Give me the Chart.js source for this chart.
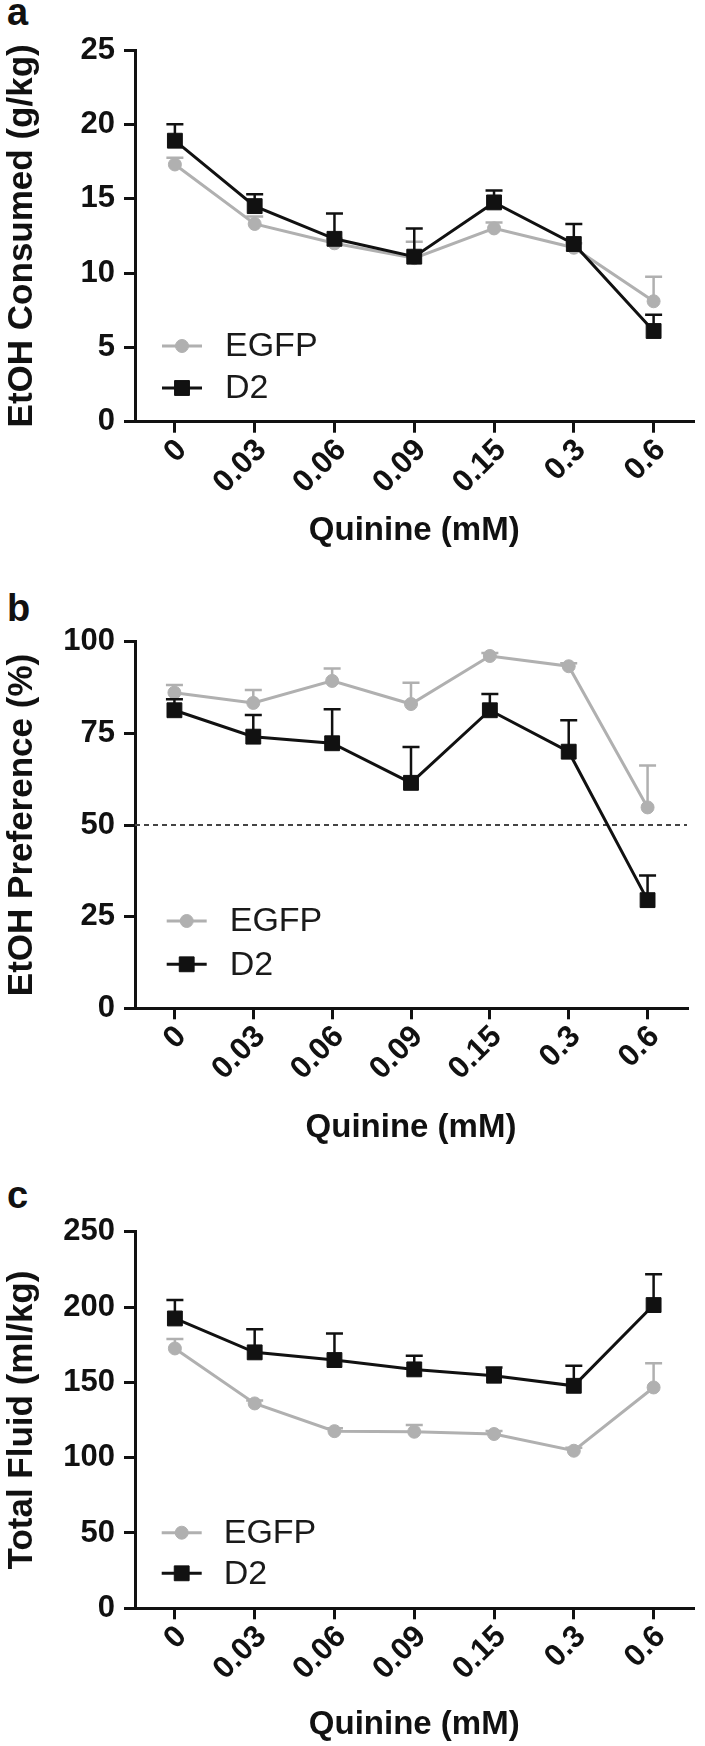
<!DOCTYPE html>
<html><head><meta charset="utf-8">
<script src="https://cdn.jsdelivr.net/npm/chart.js@4.4.0/dist/chart.umd.min.js"></script>
<style>
html,body{margin:0;padding:0;background:#fff;}
body{width:705px;height:1746px;position:relative;overflow:hidden;font-family:"Liberation Sans",Arial,sans-serif;}
canvas{position:absolute;left:0;}
.lbl{position:absolute;left:7px;font-weight:bold;font-size:38px;line-height:38px;color:#111;}
</style></head><body>
<div class="lbl" style="top:-7px">a</div>
<div class="lbl" style="top:589px">b</div>
<div class="lbl" style="top:1176px">c</div>
<canvas id="ca" width="705" height="580" style="top:0px"></canvas>
<canvas id="cb" width="705" height="580" style="top:580px"></canvas>
<canvas id="cc" width="705" height="586" style="top:1160px"></canvas>
<script>
// ---- data ----
const quinineLabels = ['0', '0.03', '0.06', '0.09', '0.15', '0.3', '0.6'];
const seriesNames = ['EGFP', 'D2'];

const consumedEGFP    = [17.3, 13.3, 12.0, 11.0, 13.0, 11.7, 8.1];
const consumedEGFPErr = [0.45, 0.5, 0.3, 1.1, 0.4, 0.3, 1.65];
const consumedD2      = [18.9, 14.5, 12.3, 11.1, 14.75, 11.95, 6.1];
const consumedD2Err   = [1.1, 0.8, 1.7, 1.9, 0.8, 1.35, 1.1];

const prefEGFP    = [86.1, 83.3, 89.3, 83.0, 96.1, 93.3, 54.8];
const prefEGFPErr = [2.1, 3.5, 3.4, 5.8, 0.8, 0.8, 11.4];
const prefD2      = [81.3, 74.1, 72.3, 61.5, 81.3, 70.0, 29.5];
const prefD2Err   = [3.0, 5.9, 9.3, 9.8, 4.4, 8.6, 6.7];
const preferenceReference = 50;

const fluidEGFP    = [172.5, 136.0, 117.6, 117.2, 115.7, 104.6, 146.6];
const fluidEGFPErr = [6.2, 2.0, 2.0, 4.4, 2.0, 2.0, 16.0];
const fluidD2      = [192.4, 169.9, 164.8, 158.6, 154.4, 147.7, 201.3];
const fluidD2Err   = [12.2, 15.4, 17.7, 9.0, 5.5, 13.3, 20.5];

const consumedAxis = {min: 0, max: 25, step: 5};
const prefAxis = {min: 0, max: 100, step: 25};
const fluidAxis = {min: 0, max: 250, step: 50};

const xTitle = 'Quinine (mM)';
// ---- styling ----
const FONT = '"Liberation Sans", Arial, sans-serif';
const GREY = '#b0b0b0';
const BLACK = '#111111';

const errorBarsPlugin = {
  id: 'errorBars',
  beforeDatasetDraw(chart, args) {
    const ds = chart.data.datasets[args.index];
    if (!ds.errors) return;
    const ys = chart.scales.y, ctx = chart.ctx;
    ctx.save();
    ctx.strokeStyle = ds.borderColor;
    ctx.lineWidth = 2.5;
    args.meta.data.forEach((pt, i) => {
      const top = ys.getPixelForValue(ds.data[i] + ds.errors[i]);
      ctx.beginPath();
      ctx.moveTo(pt.x, pt.y);
      ctx.lineTo(pt.x, top);
      ctx.moveTo(pt.x - 8.5, top);
      ctx.lineTo(pt.x + 8.5, top);
      ctx.stroke();
    });
    ctx.restore();
  }
};

const refLinePlugin = {
  id: 'refLine',
  beforeDatasetsDraw(chart, args, opts) {
    if (opts.value == null) return;
    const {ctx, chartArea} = chart;
    const y = chart.scales.y.getPixelForValue(opts.value);
    ctx.save();
    ctx.strokeStyle = '#444';
    ctx.lineWidth = 2;
    ctx.setLineDash([5, 4]);
    ctx.beginPath();
    ctx.moveTo(chartArea.left, y);
    ctx.lineTo(chartArea.right, y);
    ctx.stroke();
    ctx.restore();
  }
};

const inlineLegendPlugin = {
  id: 'inlineLegend',
  afterDatasetsDraw(chart, args, opts) {
    const {ctx, chartArea} = chart;
    const x0 = chartArea.left + opts.dx;
    chart.data.datasets.forEach((ds, i) => {
      const yy = chartArea.bottom - opts.dy[i];
      ctx.save();
      ctx.strokeStyle = ds.borderColor;
      ctx.lineWidth = ds.borderWidth;
      ctx.beginPath();
      ctx.moveTo(x0, yy);
      ctx.lineTo(x0 + 40, yy);
      ctx.stroke();
      ctx.fillStyle = ds.pointBackgroundColor;
      ctx.strokeStyle = ds.pointBorderColor;
      ctx.lineWidth = 1;
      Chart.helpers.drawPoint(ctx, {pointStyle: ds.pointStyle, radius: ds.pointRadius, borderWidth: 1, rotation: 0}, x0 + 20, yy);
      ctx.fillStyle = '#1a1a1a';
      ctx.font = '34px ' + FONT;
      ctx.textAlign = 'left';
      ctx.textBaseline = 'middle';
      ctx.fillText(ds.label, x0 + opts.textDx, yy + 1);
      ctx.restore();
    });
  }
};

function makeChart(id, axis, yTitle, egfp, egfpErr, d2, d2Err, L) {
  const canvas = document.getElementById(id);
  const H = canvas.height;
  return new Chart(canvas, {
    type: 'line',
    data: {
      labels: quinineLabels,
      datasets: [
        {label: seriesNames[0], data: egfp, errors: egfpErr, order: 2,
         borderColor: GREY, borderWidth: 3, pointStyle: 'circle', pointRadius: 6.5,
         pointBackgroundColor: GREY, pointBorderColor: GREY, pointBorderWidth: 1, tension: 0, clip: false},
        {label: seriesNames[1], data: d2, errors: d2Err, order: 1,
         borderColor: BLACK, borderWidth: 3, pointStyle: 'rect', pointRadius: 10.5,
         pointBackgroundColor: BLACK, pointBorderColor: BLACK, pointBorderWidth: 1, tension: 0, clip: false}
      ]
    },
    options: {
      responsive: false, animation: false, devicePixelRatio: 1,
      events: [],
      layout: {padding: {top: L.top, right: 705 - L.right, bottom: 0, left: 0}},
      plugins: {
        legend: {display: false}, tooltip: {enabled: false},
        inlineLegend: {dx: L.legDx, dy: L.legDy, textDx: L.textDx},
        refLine: {value: L.ref}
      },
      scales: {
        x: {
          type: 'category', offset: true,
          grid: {display: true, drawOnChartArea: false, drawTicks: true, tickLength: 11, lineWidth: 3, color: BLACK},
          border: {display: true, width: 3, color: BLACK},
          ticks: {autoSkip: false, minRotation: 45, maxRotation: 45, padding: 6, labelOffset: 7, color: BLACK,
                  font: {family: FONT, size: 31, weight: 'bold', lineHeight: 0.6}},
          title: {display: true, text: xTitle, color: BLACK,
                  font: {family: FONT, size: 33, weight: 'bold', lineHeight: 1},
                  padding: {top: 0, bottom: L.xTitlePad}},
          afterFit(scale) { scale.height = H - L.bottom; }
        },
        y: {
          min: axis.min, max: axis.max,
          grid: {display: true, drawOnChartArea: false, drawTicks: true, tickLength: 11, lineWidth: 3, color: BLACK},
          border: {display: true, width: 3, color: BLACK},
          ticks: {stepSize: axis.step, padding: 9, color: BLACK,
                  font: {family: FONT, size: 31, weight: 'bold'}},
          title: {display: true, text: yTitle, color: BLACK,
                  font: {family: FONT, size: 35, weight: 'bold', lineHeight: 1},
                  padding: {top: 4.5, bottom: 0}},
          afterFit(scale) { scale.width = 135; }
        }
      }
    },
    plugins: [errorBarsPlugin, refLinePlugin, inlineLegendPlugin]
  });
}

makeChart('ca', consumedAxis, 'EtOH Consumed (g/kg)', consumedEGFP, consumedEGFPErr, consumedD2, consumedD2Err,
  {top: 50, bottom: 421.7, right: 699, xTitlePad: 32.5, legDx: 27, legDy: [75.7, 33.7], textDx: 63, ref: null});
makeChart('cb', prefAxis, 'EtOH Preference (%)', prefEGFP, prefEGFPErr, prefD2, prefD2Err,
  {top: 61.7, bottom: 428.3, right: 687, xTitlePad: 15.5, legDx: 31.7, legDy: [87.3, 44], textDx: 63, ref: preferenceReference});
makeChart('cc', fluidAxis, 'Total Fluid (ml/kg)', fluidEGFP, fluidEGFPErr, fluidD2, fluidD2Err,
  {top: 71.7, bottom: 448.3, right: 695, xTitlePad: 4.5, legDx: 26.7, legDy: [75.6, 35], textDx: 62, ref: null});
</script>
</body></html>
